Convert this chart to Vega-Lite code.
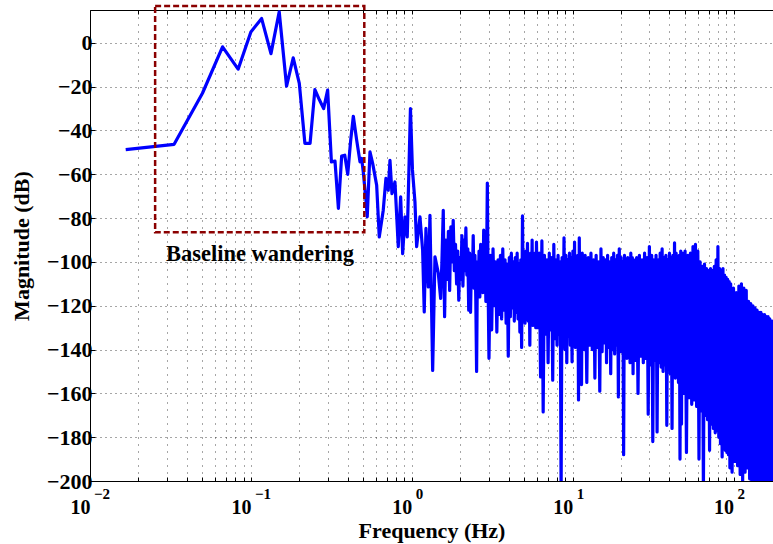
{
  "$schema": "https://vega.github.io/schema/vega-lite/v6.json",
  "width": 683,
  "height": 471,
  "autosize": {"type": "none"},
  "padding": {"left": 90, "top": 10, "right": 0, "bottom": 63},
  "background": "white",
  "config": {
    "font": "Liberation Serif",
    "view": {"stroke": null},
    "axis": {
      "labelFont": "Liberation Serif", "labelFontWeight": "bold", "labelFontSize": 20, "labelColor": "black",
      "titleFont": "Liberation Serif", "titleFontWeight": "bold", "titleFontSize": 22, "titleColor": "black",
      "domainColor": "black", "domainWidth": 1, "tickColor": "black", "tickWidth": 1,
      "gridColor": "#000", "gridOpacity": 0.7, "gridWidth": 1
    }
  },
  "datasets": {
    "spec": [
      {"f":0.01667,"m":-48.7},{"f":0.03333,"m":-46.3},{"f":0.05,"m":-23},{"f":0.06667,"m":-1.8},{"f":0.08333,"m":-12},
      {"f":0.1,"m":5},{"f":0.11667,"m":11.1},{"f":0.13333,"m":-4.9},{"f":0.15,"m":14.2},{"f":0.16667,"m":-19.8},
      {"f":0.18333,"m":-6.8},{"f":0.2,"m":-18.5},{"f":0.21667,"m":-45.9},{"f":0.23333,"m":-45.9},{"f":0.25,"m":-21.3},
      {"f":0.26667,"m":-26},{"f":0.28333,"m":-30},{"f":0.3,"m":-21.6},{"f":0.31667,"m":-54.3},{"f":0.33333,"m":-54},
      {"f":0.35,"m":-75.6},{"f":0.36667,"m":-51.7},{"f":0.38333,"m":-51.3},{"f":0.4,"m":-60},{"f":0.41667,"m":-45},
      {"f":0.43333,"m":-33.5},{"f":0.4546,"m":-44.4},{"f":0.4767,"m":-54.3},{"f":0.4884,"m":-52.8},{"f":0.4995,"m":-58.9},
      {"f":0.5192,"m":-71.8},{"f":0.5289,"m":-79.4},{"f":0.5499,"m":-49.8},{"f":0.5715,"m":-55},{"f":0.6052,"m":-65},
      {"f":0.6281,"m":-88.6},{"f":0.665,"m":-76.4},{"f":0.6911,"m":-61.9},{"f":0.7143,"m":-67.3},{"f":0.7322,"m":-53.6},
      {"f":0.7534,"m":-68.8},{"f":0.7864,"m":-63.5},{"f":0.8245,"m":-93},{"f":0.8531,"m":-70.3},{"f":0.8779,"m":-96.2},
      {"f":0.9072,"m":-79.4},{"f":0.9376,"m":-88.6},{"f":0.9815,"m":-30},{"f":1.01,"m":-58},{"f":1.0469,"m":-72.6},
      {"f":1.0725,"m":-93},{"f":1.1246,"m":-79.4},{"f":1.1687,"m":-94.7},{"f":1.1959,"m":-122.8},{"f":1.2254,"m":-84.7},
      {"f":1.2664,"m":-111.4},{"f":1.2975,"m":-78.7},{"f":1.3489,"m":-149.5},{"f":1.3941,"m":-97.7},{"f":1.4614,"m":-105},
      {"f":1.5124,"m":-116.7},
      {"f":1.54,"m":-100},{"f":1.57,"m":-76.4},{"f":1.6,"m":-125},{"f":1.63,"m":-90},{"f":1.66,"m":-108},
      {"f":1.69,"m":-86},{"f":1.72,"m":-113},{"f":1.75,"m":-84},{"f":1.78,"m":-100},{"f":1.81,"m":-81},
      {"f":1.84,"m":-104},{"f":1.87,"m":-92},{"f":1.9,"m":-110},{"f":1.93,"m":-95},{"f":1.96,"m":-117.5},
      {"f":1.99,"m":-98},{"f":2.02,"m":-108},{"f":2.05,"m":-88},{"f":2.08,"m":-111},{"f":2.11,"m":-90},
      {"f":2.14,"m":-104},{"f":2.17,"m":-84.5},{"f":2.2,"m":-106},{"f":2.23,"m":-94},{"f":2.26,"m":-122},
      {"f":2.29,"m":-96},{"f":2.32,"m":-123},{"f":2.35,"m":-99},{"f":2.38,"m":-110},{"f":2.41,"m":-88},
      {"f":2.44,"m":-112},{"f":2.47,"m":-97},{"f":2.5,"m":-116},{"f":2.53,"m":-150},{"f":2.56,"m":-100},
      {"f":2.59,"m":-113},{"f":2.62,"m":-95},{"f":2.65,"m":-116},{"f":2.68,"m":-92},{"f":2.71,"m":-110},
      {"f":2.74,"m":-97},{"f":2.77,"m":-114},{"f":2.8,"m":-85.5},{"f":2.83,"m":-106},{"f":2.86,"m":-99},
      {"f":2.89,"m":-118},{"f":2.92,"m":-100},{"f":2.95,"m":-64},{"f":2.98,"m":-108},
      {"f":3.02,"m":-144},{"f":3.08,"m":-97},{"f":3.14,"m":-131},{"f":3.2,"m":-94},{"f":3.26,"m":-120},
      {"f":3.32,"m":-100},{"f":3.38,"m":-132},{"f":3.44,"m":-99},{"f":3.5,"m":-124},{"f":3.56,"m":-97},
      {"f":3.62,"m":-126},{"f":3.68,"m":-94},{"f":3.74,"m":-122},{"f":3.8,"m":-99},{"f":3.86,"m":-128},
      {"f":3.92,"m":-101},{"f":3.98,"m":-143},{"f":4.04,"m":-98},{"f":4.1,"m":-125},{"f":4.16,"m":-96},
      {"f":4.22,"m":-121},{"f":4.28,"m":-100},{"f":4.34,"m":-127},{"f":4.4,"m":-98},{"f":4.46,"m":-123},
      {"f":4.52,"m":-96},{"f":4.58,"m":-126},{"f":4.64,"m":-101},{"f":4.7,"m":-132},{"f":4.76,"m":-99},
      {"f":4.82,"m":-139},{"f":4.88,"m":-79},{"f":4.94,"m":-125},{"f":5.0,"m":-97},{"f":5.06,"m":-128},
      {"f":5.12,"m":-95},{"f":5.18,"m":-122},{"f":5.24,"m":-91.5},{"f":5.3,"m":-127},{"f":5.36,"m":-99},
      {"f":5.42,"m":-138},{"f":5.48,"m":-96},{"f":5.54,"m":-124},{"f":5.6,"m":-90},{"f":5.66,"m":-129},
      {"f":5.72,"m":-98},{"f":5.78,"m":-126},{"f":5.84,"m":-96},{"f":5.9,"m":-130},{"f":5.96,"m":-91},
      {"f":6.08,"m":-130},{"f":6.2,"m":-96},{"f":6.32,"m":-152.5},{"f":6.44,"m":-90.4},{"f":6.56,"m":-168.5},
      {"f":6.68,"m":-97},{"f":6.8,"m":-133},{"f":6.92,"m":-99},{"f":7.04,"m":-146},{"f":7.16,"m":-96},
      {"f":7.28,"m":-131},{"f":7.4,"m":-98},{"f":7.52,"m":-154},{"f":7.64,"m":-92},{"f":7.76,"m":-135},
      {"f":7.88,"m":-99},{"f":8.0,"m":-138},{"f":8.12,"m":-97},{"f":8.24,"m":-133},{"f":8.36,"m":-100},
      {"f":8.48,"m":-205},{"f":8.6,"m":-98},{"f":8.72,"m":-136},{"f":8.84,"m":-89},{"f":8.96,"m":-140},
      {"f":9.08,"m":-97},{"f":9.2,"m":-146},{"f":9.32,"m":-99},{"f":9.44,"m":-134},{"f":9.56,"m":-96},
      {"f":9.68,"m":-138},{"f":9.8,"m":-98},{"f":9.92,"m":-145.6},{"f":10.04,"m":-95},{"f":10.16,"m":-135},
      {"f":10.28,"m":-91},{"f":10.4,"m":-139},{"f":10.52,"m":-98},{"f":10.64,"m":-133},{"f":10.76,"m":-97},
      {"f":10.88,"m":-163},{"f":11.0,"m":-89},{"f":11.12,"m":-137},{"f":11.24,"m":-99},{"f":11.36,"m":-156},
      {"f":11.48,"m":-96},{"f":11.6,"m":-136},{"f":11.72,"m":-100},{"f":11.84,"m":-140},{"f":11.96,"m":-97},
      {"f":12.25,"m":-155},{"f":12.5,"m":-98},{"f":12.75,"m":-138},{"f":13.0,"m":-96},{"f":13.25,"m":-140},
      {"f":13.5,"m":-99},{"f":13.75,"m":-153},{"f":14.0,"m":-97},{"f":14.25,"m":-139},{"f":14.5,"m":-100},
      {"f":14.75,"m":-159},{"f":15.0,"m":-94},{"f":15.25,"m":-141},{"f":15.5,"m":-98},{"f":15.75,"m":-137},
      {"f":16.0,"m":-99},{"f":16.25,"m":-146},{"f":16.5,"m":-97},{"f":16.75,"m":-139},{"f":17.0,"m":-100},
      {"f":17.25,"m":-151},{"f":17.5,"m":-98},{"f":17.75,"m":-140},{"f":18.0,"m":-96},{"f":18.25,"m":-142},
      {"f":18.5,"m":-99},{"f":18.75,"m":-138},{"f":19.0,"m":-97},{"f":19.25,"m":-161.6},{"f":19.5,"m":-94},
      {"f":19.75,"m":-141},{"f":20.0,"m":-98},{"f":20.25,"m":-139},{"f":20.5,"m":-100},{"f":20.75,"m":-188},
      {"f":21.0,"m":-97},{"f":21.25,"m":-140},{"f":21.5,"m":-99},{"f":21.75,"m":-144},{"f":22.0,"m":-98},
      {"f":22.25,"m":-141},{"f":22.5,"m":-100},{"f":22.75,"m":-146},{"f":23.0,"m":-96},{"f":23.25,"m":-142},
      {"f":23.5,"m":-98},{"f":23.75,"m":-151},{"f":24.0,"m":-99},
      {"f":24.5,"m":-145},{"f":25.0,"m":-98},{"f":25.5,"m":-160},{"f":26.0,"m":-97},{"f":26.5,"m":-143},
      {"f":27.0,"m":-99},{"f":27.5,"m":-146},{"f":28.0,"m":-96},{"f":28.5,"m":-144},{"f":29.0,"m":-98},
      {"f":29.5,"m":-169.5},{"f":30.0,"m":-93},{"f":30.5,"m":-147},{"f":31.0,"m":-97},{"f":31.5,"m":-182},
      {"f":32.0,"m":-99},{"f":32.5,"m":-145},{"f":33.0,"m":-97},{"f":33.5,"m":-177.6},{"f":34.0,"m":-99},
      {"f":34.5,"m":-146},{"f":35.0,"m":-96},{"f":35.5,"m":-148},{"f":36.0,"m":-94},{"f":36.5,"m":-150},
      {"f":37.0,"m":-98},{"f":37.5,"m":-147},{"f":38.0,"m":-97},{"f":38.5,"m":-174.6},{"f":39.0,"m":-99},
      {"f":39.5,"m":-149},{"f":40.0,"m":-96},{"f":40.5,"m":-151},{"f":41.0,"m":-98},{"f":41.5,"m":-176},
      {"f":42.0,"m":-97},{"f":42.5,"m":-150},{"f":43.0,"m":-91.3},{"f":43.5,"m":-153},{"f":44.0,"m":-96},
      {"f":44.5,"m":-152},{"f":45.0,"m":-98},{"f":45.5,"m":-155},{"f":46.0,"m":-97},{"f":46.5,"m":-190},
      {"f":47.0,"m":-95},{"f":47.5,"m":-174},{"f":48.0,"m":-96},
      {"f":49,"m":-160},{"f":50,"m":-95},{"f":51,"m":-187},{"f":52,"m":-97},{"f":53,"m":-162},
      {"f":54,"m":-96},{"f":55,"m":-165},{"f":56,"m":-93},{"f":57,"m":-163},{"f":58,"m":-92},
      {"f":59,"m":-166},{"f":60,"m":-95},{"f":61,"m":-190},{"f":62,"m":-100},{"f":63,"m":-168},
      {"f":64,"m":-102},{"f":65,"m":-205},{"f":66,"m":-101},{"f":67,"m":-170},{"f":68,"m":-103},
      {"f":69,"m":-172},{"f":70,"m":-104},{"f":71,"m":-186},{"f":72,"m":-103},{"f":73,"m":-174},
      {"f":74,"m":-104},{"f":75,"m":-176},{"f":76,"m":-102},{"f":77,"m":-178},{"f":78,"m":-99},
      {"f":79,"m":-177},{"f":80,"m":-93},{"f":81,"m":-180},{"f":82,"m":-103},{"f":83,"m":-183},
      {"f":84,"m":-104},{"f":85,"m":-189},{"f":86,"m":-103},{"f":87,"m":-184},{"f":88,"m":-106},
      {"f":89,"m":-186},{"f":90,"m":-107},{"f":91,"m":-187},{"f":92,"m":-108},{"f":93,"m":-188},
      {"f":94,"m":-109},{"f":95,"m":-194},{"f":96,"m":-110},
      {"f":98,"m":-196},{"f":100,"m":-112},{"f":102,"m":-191},{"f":104,"m":-114},{"f":106,"m":-193},
      {"f":108,"m":-111},{"f":110,"m":-197},{"f":112,"m":-110},{"f":114,"m":-200},{"f":116,"m":-112},
      {"f":118,"m":-196},{"f":120,"m":-113},{"f":122,"m":-194},{"f":124,"m":-118},{"f":126,"m":-199},
      {"f":128,"m":-119},{"f":130,"m":-202},{"f":132,"m":-120},{"f":134,"m":-205},{"f":136,"m":-121},
      {"f":138,"m":-210},{"f":140,"m":-122},{"f":142,"m":-210},{"f":144,"m":-123},{"f":146,"m":-210},
      {"f":148,"m":-123},{"f":150,"m":-210},{"f":152,"m":-124},{"f":154,"m":-210},{"f":156,"m":-124},
      {"f":158,"m":-210},{"f":160,"m":-125},{"f":162,"m":-210},{"f":164,"m":-125},{"f":166,"m":-210},
      {"f":168,"m":-126},{"f":170,"m":-210},{"f":172,"m":-127},{"f":174,"m":-210},{"f":176,"m":-127},
      {"f":178,"m":-210}
    ],
    "box": [{"f1": 0.0254, "f2": 0.507, "m1": -86.5, "m2": 16.8}],
    "note": [{"f": 0.1139, "m": -99.4, "label": "Baseline wandering"}],
    "exps": [{"f": 0.01, "e": "−2"}, {"f": 0.1, "e": "−1"}, {"f": 1, "e": "0"}, {"f": 10, "e": "1"}, {"f": 100, "e": "2"}]
  },
  "layer": [
    {
      "data": {"name": "spec"},
      "mark": {"type": "line", "color": "#0000FF", "strokeWidth": 3.2, "clip": true, "strokeJoin": "round"},
      "encoding": {
        "x": {
          "field": "f", "type": "quantitative",
          "scale": {"type": "log", "domain": [0.01, 176], "nice": false},
          "axis": {
            "orient": "bottom", "title": "Frequency (Hz)", "titlePadding": 3,
            "values": [0.01,0.02,0.03,0.04,0.05,0.06,0.07,0.08,0.09,0.1,0.2,0.3,0.4,0.5,0.6,0.7,0.8,0.9,1,2,3,4,5,6,7,8,9,10,20,30,40,50,60,70,80,90,100],
            "labelExpr": "datum.value == 0.01 || datum.value == 0.1 || datum.value == 1 || datum.value == 10 || datum.value == 100 ? '10' : ''",
            "labelAlign": "right", "labelDx": 4,
            "labelFlush": false, "labelOverlap": false, "labelBound": false,
            "tickSize": -4, "labelPadding": 20,
            "grid": true, "gridDash": [1, 6]
          }
        },
        "y": {
          "field": "m", "type": "quantitative",
          "scale": {"domain": [-200, 15], "nice": false, "zero": false},
          "axis": {
            "title": "Magnitude (dB)", "titlePadding": 13,
            "values": [-200,-180,-160,-140,-120,-100,-80,-60,-40,-20,0],
            "labelFontSize": 22,
            "labelFlush": false, "labelOverlap": false,
            "tickSize": -5, "labelPadding": 3,
            "grid": true, "gridDash": [1, 4]
          }
        }
      }
    },
    {
      "data": {"name": "box"},
      "mark": {"type": "rect", "fill": null, "stroke": "#8B0000", "strokeWidth": 2.5, "strokeDash": [6, 3], "clip": false},
      "encoding": {
        "x": {
          "field": "f1", "type": "quantitative",
          "scale": {"type": "log", "domain": [0.01, 176], "nice": false},
          "axis": {
            "orient": "top", "title": null, "labels": false, "grid": false,
            "values": [0.01,0.02,0.03,0.04,0.05,0.06,0.07,0.08,0.09,0.1,0.2,0.3,0.4,0.5,0.6,0.7,0.8,0.9,1,2,3,4,5,6,7,8,9,10,20,30,40,50,60,70,80,90,100],
            "tickSize": -4
          }
        },
        "x2": {"field": "f2"},
        "y": {"field": "m1", "type": "quantitative", "axis": null},
        "y2": {"field": "m2"}
      }
    },
    {
      "data": {"name": "note"},
      "mark": {"type": "text", "font": "Liberation Serif", "fontWeight": "bold", "fontSize": 22.5, "color": "black", "align": "center", "baseline": "alphabetic"},
      "encoding": {
        "x": {"field": "f", "type": "quantitative", "axis": null},
        "y": {"field": "m", "type": "quantitative", "axis": null},
        "text": {"field": "label"}
      }
    },
    {
      "data": {"name": "exps"},
      "mark": {"type": "text", "font": "Liberation Serif", "fontWeight": "bold", "fontSize": 15, "color": "black", "align": "left", "baseline": "alphabetic", "dx": 4, "dy": 18, "clip": false},
      "encoding": {
        "x": {"field": "f", "type": "quantitative", "axis": null},
        "y": {"datum": -200, "type": "quantitative", "axis": null},
        "text": {"field": "e"}
      }
    }
  ],
  "resolve": {"axis": {"x": "independent", "y": "independent"}}
}
